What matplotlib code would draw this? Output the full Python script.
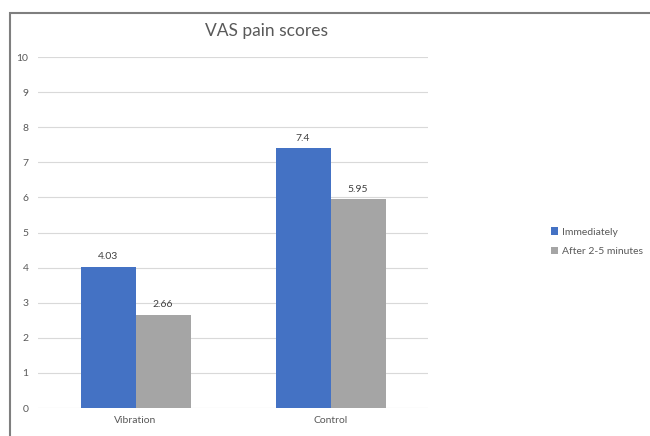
import matplotlib.pyplot as plt
import matplotlib.patches as mpatches
import numpy as np

groups = ['Vibration', 'Control']
series = ['Immediately', 'After 2-5 minutes']
immediately = [4.03, 7.4]
after = [2.66, 5.95]
value_labels = [['4.03', '7.4'], ['2.66', '5.95']]
colors = ['#4472C4', '#A5A5A5']

plt.rcParams['font.family'] = ['Lato', 'DejaVu Sans']

fig = plt.figure(figsize=(6.5, 4.36), dpi=100)
ax = fig.add_axes([0.0585, 0.0642, 0.6, 0.805])

# outer chart frame (cut off at right and bottom like the scan)
frame = mpatches.Rectangle((0.0154, -0.05), 1.2, 1.02, transform=fig.transFigure,
                           fill=False, edgecolor='#7f7f7f', linewidth=1.5, clip_on=False)
fig.patches.append(frame)

x = np.arange(len(groups))
w = 0.282
for i, vals in enumerate([immediately, after]):
    pos = x + (i - 0.5) * w
    ax.bar(pos, vals, width=w, color=colors[i], label=series[i], zorder=3)
    for p, v, lab in zip(pos, vals, value_labels[i]):
        ax.text(p, v + 0.15, lab, ha='center', va='bottom', fontsize=7.5, color='#404040')

ax.set_xlim(-0.5, 1.5)
ax.set_ylim(0, 10)
ax.set_yticks(range(0, 11))
ax.set_xticks(x)
ax.set_xticklabels(groups)
ax.tick_params(axis='both', length=0, labelsize=7.5, colors='#595959')
ax.tick_params(axis='y', pad=7)
ax.tick_params(axis='x', pad=6)
ax.grid(axis='y', color='#d9d9d9', linewidth=0.8, zorder=0)
for s in ax.spines.values():
    s.set_visible(False)

fig.text(0.41, 0.93, 'VAS pain scores', ha='center', va='center', fontsize=12.5, color='#595959')

ax.legend(loc='center left', bbox_to_anchor=(1.29, 0.473), frameon=False, fontsize=7.5,
          handlelength=0.7, handleheight=0.7, handletextpad=0.4, labelspacing=1.0,
          labelcolor='#595959')

fig.savefig('out.png', dpi=100)
